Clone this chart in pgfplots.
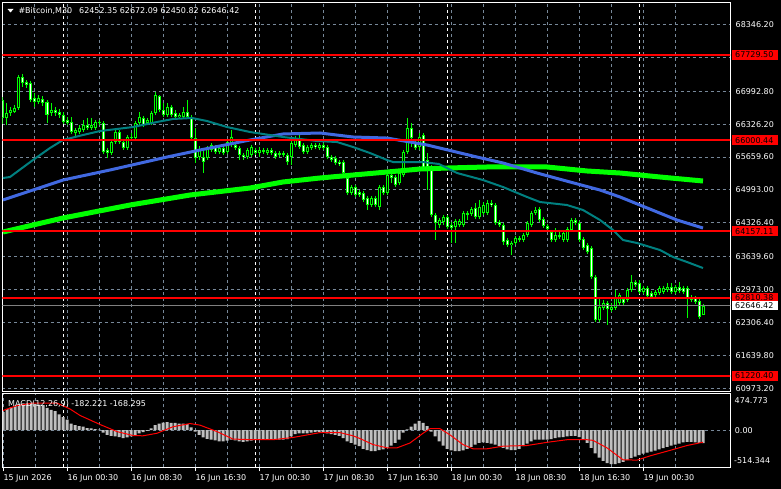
\documentclass[border=0pt]{standalone}
\usepackage{fontspec}
\setmainfont{DejaVu Sans}
\usepackage{pgfplots}
\usepackage{pgfplotstable}
\pgfplotsset{compat=1.18}
\definecolor{mtgrid}{RGB}{119,136,153}
\definecolor{mtlime}{RGB}{0,255,0}
\definecolor{mtblue}{RGB}{65,105,225}
\definecolor{mtteal}{RGB}{0,128,128}
\definecolor{mtsilver}{RGB}{192,192,192}
\newcommand{\mtfont}{\fontsize{8}{9.6}\selectfont}

\pgfplotstableread{
i o h l c
0 66816 66876 66329 66451
1 66451 66755 66309 66552
2 66552 66674 66491 66613
3 66572 66714 66552 66653
4 66653 67323 66613 67282
5 67282 67343 67079 67160
6 67181 67221 67059 67120
7 67160 67201 66775 66816
8 66856 66958 66674 66775
9 66775 66917 66735 66856
10 66836 66897 66694 66755
11 66775 66816 66349 66512
12 66552 66755 66491 66613
13 66613 66674 66491 66552
14 66572 66633 66451 66512
15 66512 66572 66329 66370
16 66410 66471 66309 66349
17 66370 66471 66127 66167
18 66147 66248 66086 66208
19 66167 66309 66127 66248
20 66208 66410 66167 66309
21 66309 66451 66208 66248
22 66248 66451 66208 66309
23 66248 66410 66208 66370
24 66370 66410 66309 66349
25 66349 66390 65721 65762
26 65802 65843 65640 65741
27 65741 66005 65701 65964
28 65964 66208 65924 66167
29 66167 66208 65924 65964
30 65964 66005 65802 65843
31 65843 66106 65802 66066
32 66066 66147 66005 66045
33 66045 66390 66005 66349
34 66349 66572 66309 66471
35 66451 66491 66268 66309
36 66349 66451 66309 66410
37 66349 66593 66309 66552
38 66552 66978 66512 66917
39 66897 66917 66572 66613
40 66613 66755 66471 66512
41 66512 66755 66471 66674
42 66674 66714 66471 66512
43 66552 66613 66451 66471
44 66471 66552 66431 66512
45 66471 66674 66451 66572
46 66572 66816 66451 66471
47 66471 66512 66005 66045
48 66045 66248 65539 65640
49 65660 65883 65600 65802
50 65660 65802 65336 65559
51 65640 65883 65600 65843
52 65802 65944 65762 65904
53 65863 65904 65721 65762
54 65762 65883 65721 65843
55 65843 65883 65701 65741
56 65762 66005 65721 65964
57 65904 66208 65863 66066
58 65904 65944 65802 65843
59 65843 65883 65600 65701
60 65701 65741 65600 65660
61 65660 65843 65620 65802
62 65701 65904 65660 65863
63 65802 65843 65701 65741
64 65741 65863 65660 65802
65 65802 65843 65721 65762
66 65741 65843 65701 65802
67 65802 65843 65701 65741
68 65741 65782 65620 65660
69 65701 65782 65660 65741
70 65741 65782 65660 65701
71 65701 65741 65498 65559
72 65660 65985 65498 65944
73 65904 66086 65863 66045
74 66005 66106 65822 65863
75 65904 65944 65721 65762
76 65762 65904 65721 65863
77 65843 65944 65802 65904
78 65904 65944 65822 65863
79 65843 65944 65802 65904
80 65904 65944 65802 65843
81 65863 65904 65620 65660
82 65660 65701 65559 65600
83 65640 65681 65498 65539
84 65559 65600 65478 65518
85 65559 65600 65295 65336
86 65235 65295 64890 64931
87 64931 65093 64890 65052
88 65052 65093 64850 64890
89 64951 64991 64850 64890
90 64931 64971 64748 64789
91 64829 64870 64586 64687
92 64687 64870 64647 64829
93 64829 64870 64647 64687
94 64647 65093 64586 65052
95 65052 65093 64890 64931
96 64931 65356 64890 65295
97 65295 65397 65133 65235
98 65255 65295 65052 65093
99 65133 65377 65093 65336
100 65295 65802 65255 65762
101 65762 66451 65721 66248
102 66248 66349 65863 66045
103 65964 66005 65802 65843
104 65863 66147 65802 66066
105 66106 66147 65397 65437
106 65600 65741 64991 65397
107 65437 65498 64444 64485
108 64485 64525 63978 64322
109 64282 64424 64221 64383
110 64343 64485 64282 64444
111 64444 64485 64201 64241
112 64282 64343 63917 64221
113 64241 64404 63917 64363
114 64282 64404 64241 64363
115 64282 64566 64241 64525
116 64525 64566 64383 64485
117 64505 64647 64464 64606
118 64627 64728 64404 64444
119 64444 64789 64404 64647
120 64525 64748 64485 64687
121 64525 64789 64485 64728
122 64728 64789 64647 64687
123 64687 64728 64282 64322
124 64343 64383 64241 64282
125 64282 64322 63876 63937
126 63978 64018 63836 63876
127 63876 63958 63674 63917
128 63917 64059 63876 64018
129 64018 64059 63937 63978
130 63978 64120 63937 64079
131 64079 64363 64039 64322
132 64282 64566 64241 64525
133 64525 64647 64485 64586
134 64606 64647 64343 64383
135 64404 64444 64221 64262
136 64262 64302 64160 64201
137 64140 64181 63937 63978
138 63978 64221 63937 64079
139 64079 64181 63998 64039
140 63978 64181 63937 64120
141 63978 64241 63937 64201
142 64181 64424 64140 64383
143 64383 64424 64282 64322
144 64322 64363 63937 63978
145 63998 64039 63775 63816
146 63876 63917 63694 63735
147 63816 63856 63188 63228
148 63228 63269 62316 62356
149 62356 62802 62316 62620
150 62600 62762 62559 62701
151 62701 62741 62255 62579
152 62559 62701 62519 62620
153 62600 62964 62559 62802
154 62701 62904 62660 62863
155 62782 62823 62660 62701
156 62762 63005 62721 62964
157 62964 63269 62924 63127
158 63127 63167 63025 63066
159 63106 63167 62883 62924
160 62924 63046 62883 63005
161 63005 63046 62802 62843
162 62904 62944 62782 62823
163 62863 62964 62823 62924
164 62904 63046 62863 63005
165 62924 63046 62883 63005
166 62964 63106 62924 63025
167 63025 63106 62883 62924
168 62924 63066 62883 63025
169 63025 63127 62904 62944
170 63005 63046 62883 62924
171 63005 63046 62397 62802
172 62823 62863 62721 62762
173 62802 62843 62681 62721
174 62741 62782 62377 62417
175 62452.35 62672.09 62450.82 62646.42
}\tabcandle

\pgfplotstableread{
i v
0 65235
1.75 65255
7.5 65600
11.75 65843
15 66005
20 66106
24.25 66187
32.5 66268
38.5 66370
42.5 66431
47.25 66451
51 66390
56 66268
61.75 66167
70 66066
78.5 65985
83.5 65964
87.5 65863
91.75 65741
96 65600
97.5 65559
105 65559
109 65518
113.5 65336
120 65194
125 65052
131 64850
134.25 64748
141 64687
145 64586
149.25 64383
152.5 64181
155 63978
158.5 63917
164.25 63775
167.5 63633
171 63532
175 63410
}\tabteal

\pgfplotstableread{
i v
0 64789
15 65194
26.75 65397
41 65660
49.25 65802
61.75 66005
70 66127
79.25 66147
87.5 66066
96 66045
101.75 65964
106 65904
111.25 65802
118.5 65660
125 65539
133.5 65336
141.75 65154
149.25 64991
154.25 64850
168.5 64383
175 64221
}\tabblue

\pgfplotstableread{
i v
0 64140
15 64424
31.75 64687
46.75 64890
61.75 65032
70 65154
79.25 65235
87.5 65295
96 65356
104.25 65417
111 65437
121 65458
136 65458
146 65377
154.25 65336
164.25 65255
175 65174
}\tablime

\pgfplotstableread{
i m
0 245
1 290
2 312
3 335
4 358
5 366
6 366
7 366
8 358
9 350
10 335
11 304
12 277
13 259
14 214
15 179
16 143
17 89
18 67
19 54
20 45
21 27
22 22
23 13
24 4
25 -36
26 -67
27 -80
28 -89
29 -98
30 -112
31 -103
32 -89
33 -67
34 -45
35 -31
36 -13
37 22
38 67
39 89
40 103
41 107
42 98
43 98
44 89
45 89
46 80
47 36
48 -22
49 -67
50 -103
51 -121
52 -134
53 -143
54 -156
55 -156
56 -147
57 -134
58 -143
59 -156
60 -165
61 -156
62 -147
63 -134
64 -134
65 -134
66 -134
67 -134
68 -134
69 -134
70 -134
71 -125
72 -89
73 -58
74 -45
75 -45
76 -45
77 -36
78 -31
79 -31
80 -31
81 -45
82 -58
83 -67
84 -80
85 -112
86 -156
87 -179
88 -201
89 -223
90 -259
91 -277
92 -290
93 -290
94 -277
95 -268
96 -246
97 -214
98 -179
99 -134
100 -36
101 9
102 45
103 89
104 125
105 98
106 54
107 -22
108 -89
109 -156
110 -214
111 -259
112 -281
113 -290
114 -290
115 -281
116 -259
117 -232
118 -201
119 -179
120 -170
121 -179
122 -188
123 -201
124 -223
125 -246
126 -268
127 -277
128 -277
129 -259
130 -223
131 -188
132 -156
133 -134
134 -134
135 -134
136 -134
137 -125
138 -112
139 -103
140 -98
141 -89
142 -80
143 -80
144 -98
145 -134
146 -179
147 -246
148 -322
149 -380
150 -424
151 -456
152 -469
153 -469
154 -456
155 -438
156 -415
157 -389
158 -366
159 -348
160 -326
161 -313
162 -299
163 -286
164 -268
165 -250
166 -232
167 -214
168 -201
169 -188
170 -170
171 -165
172 -165
173 -170
174 -179
175 -182.221
}\tabhist

\pgfplotstableread{
i s
0 268
3.4 335
7.5 371
13.5 371
16.75 290
19.25 201
24.25 76
28.5 -22
32.5 -76
35 -80
38.5 -45
42.5 45
46.75 89
49.25 67
53.5 -22
57.5 -125
62.5 -134
67.5 -134
72.5 -103
79.25 -36
84.25 -36
87.5 -80
89.25 -118
92.5 -201
96 -246
98.5 -246
101.75 -179
105 -45
106.75 18
109.25 18
111.75 -67
115 -201
117.5 -259
121 -259
125 -223
131 -214
136 -170
141 -134
146 -134
147.5 -143
151 -246
155 -411
158.5 -415
161.75 -357
166.75 -281
171 -214
175 -168.295
}\tabsig

\pgfplotsset{
  mtaxis/.style={
    scale only axis, width=727.5pt,
    xmin=-0.125, xmax=181.75,
    axis line style={white, line width=1pt},
    xtick={0,16,...,160},
    minor xtick={8,24,...,168},
    xmajorgrids, xminorgrids, ymajorgrids,
    major grid style={mtgrid, line width=1pt, dash pattern=on 3pt off 3pt},
    minor grid style={mtgrid, line width=1pt, dash pattern=on 3pt off 3pt},
    extra x ticks={15,63,111,159},
    extra x tick labels={},
    extra x tick style={grid=major, major grid style={white, line width=1pt, dash pattern=on 3pt off 3pt}, major tick length=0pt},
    yticklabel pos=right,
    ticklabel style={font=\mtfont, text=white},
    yticklabel style={anchor=west, inner sep=0pt, xshift=5.5pt},
    minor tick length=0pt,
  },
  candlebar/.style={forget plot, draw=none, mark=none,
    error bars/y dir=both, error bars/y explicit, error bars/error mark=none},
}
\tikzset{
  redlab/.style={fill=red, text=black, font=\mtfont, anchor=west, inner xsep=3.3pt, inner ysep=0pt,
    minimum height=9.5pt, text width=39.5pt, align=left},
}

\begin{document}
\begin{tikzpicture}
\useasboundingbox (0,0) rectangle (781pt,-489pt);
\fill[black] (0,0) rectangle (781pt,-489pt);

% ---------- main price panel ----------
\begin{axis}[mtaxis,
  at={(2.5pt,-391pt)}, anchor=south west, height=389pt,
  ymin=60917.2, ymax=68802.3,
  major tick length=0pt,
  xticklabels={},
  ytick={60973.2,61639.8,62306.4,62973,63639.6,64326.4,64993,65659.6,66326.2,66992.8,67679.6,68346.2},
  yticklabels={60973.20,61639.80,62306.40,62973.00,63639.60,64326.40,64993.00,65659.60,66326.20,66992.80,,68346.20},
]
% wicks
\addplot[candlebar, error bars/error bar style={draw=mtlime, line width=1pt, line cap=butt}]
  table[x=i, y=h, y error plus expr=0, y error minus expr={\thisrow{h}-\thisrow{l}}] {\tabcandle};
% bodies
\addplot[candlebar, error bars/error bar style={draw=mtlime, line width=3pt, line cap=butt}]
  table[x=i, y expr={max(\thisrow{o},\thisrow{c})}, y error plus expr=0,
        y error minus expr={max(abs(\thisrow{o}-\thisrow{c}),20)}] {\tabcandle};
% bull interior (black)
\addplot[restrict expr to domain={\thisrow{c}-\thisrow{o}}{1:100000}, candlebar,
  error bars/error bar style={draw=black, line width=1pt, line cap=butt}]
  table[x=i, y expr={\thisrow{c}-20}, y error plus expr=0,
        y error minus expr={max(\thisrow{c}-\thisrow{o}-40,0)}] {\tabcandle};
% bear interior (white)
\addplot[restrict expr to domain={\thisrow{c}-\thisrow{o}}{-100000:-1}, candlebar,
  error bars/error bar style={draw=white, line width=1pt, line cap=butt}]
  table[x=i, y expr={\thisrow{o}-20}, y error plus expr=0,
        y error minus expr={max(\thisrow{o}-\thisrow{c}-40,0)}] {\tabcandle};
% moving averages
\addplot[mtlime, line width=5pt, mark=none] table[x=i, y=v] {\tablime};
\addplot[mtblue, line width=3pt, mark=none] table[x=i, y=v] {\tabblue};
\addplot[mtteal, line width=2pt, mark=none] table[x=i, y=v] {\tabteal};
% horizontal levels
\addplot[red, line width=2pt, mark=none] coordinates {(-1,67729.50) (183,67729.50)};
\addplot[red, line width=2pt, mark=none] coordinates {(-1,66000.44) (183,66000.44)};
\addplot[red, line width=2pt, mark=none] coordinates {(-1,64157.11) (183,64157.11)};
\addplot[red, line width=2pt, mark=none] coordinates {(-1,62810.38) (183,62810.38)};
\addplot[red, line width=2pt, mark=none] coordinates {(-1,61220.40) (183,61220.40)};
\addplot[gray, line width=1pt, mark=none] coordinates {(-1,62646.42) (183,62646.42)};
\coordinate (L1) at (axis cs:181.75,67729.50);
\coordinate (L2) at (axis cs:181.75,66000.44);
\coordinate (L3) at (axis cs:181.75,64157.11);
\coordinate (L4) at (axis cs:181.75,62810.38);
\coordinate (L5) at (axis cs:181.75,61220.40);
\coordinate (LB) at (axis cs:181.75,62646.42);
\end{axis}

% ---------- MACD panel ----------
\begin{axis}[mtaxis,
  at={(2.5pt,-467.3pt)}, anchor=south west, height=74pt,
  ymin=-514.344, ymax=506,
  ytick={0}, yticklabels={},
  ytick style={draw=none},
  xtick pos=left, tick align=outside, major tick length=4pt,
  xtick style={draw=white, line width=1pt},
  xticklabels={15 Jun 2026,16 Jun 00:30,16 Jun 08:30,16 Jun 16:30,17 Jun 00:30,17 Jun 08:30,17 Jun 16:30,18 Jun 00:30,18 Jun 08:30,18 Jun 16:30,19 Jun 00:30},
  xticklabel style={anchor=north west, inner sep=0pt, xshift=0.3pt, yshift=-3pt},
]
\addplot[ybar, bar width=3pt, bar shift=0pt, fill=mtsilver, draw=none] table[x=i, y=m] {\tabhist};
\addplot[red, line width=1pt, mark=none] table[x=i, y=s] {\tabsig};
\end{axis}

% ---------- texts ----------
\fill[white] (7.5pt,-9pt) -- (13.5pt,-9pt) -- (10.5pt,-12.5pt) -- cycle;
\node[anchor=base west, inner sep=0pt, text=white, font=\mtfont] at (18.3pt,-14pt) {\#Bitcoin,M30};
\node[anchor=base west, inner sep=0pt, text=white, font=\mtfont] at (79pt,-14pt) {62452.35 62672.09 62450.82 62646.42};
\node[anchor=base west, inner sep=0pt, text=white, font=\mtfont] at (8pt,-406pt) {MACD(12,26,9) -182.221 -168.295};

\node[redlab] at ([xshift=1.7pt]L1) {67729.50};
\node[redlab] at ([xshift=1.7pt]L2) {66000.44};
\node[redlab] at ([xshift=1.7pt]L3) {64157.11};
\node[redlab] at ([xshift=1.7pt]L4) {62810.38};
\node[redlab] at ([xshift=1.7pt]L5) {61220.40};
\node[redlab, fill=white] at ([xshift=1.7pt]LB) {62646.42};

\node[anchor=base west, inner sep=0pt, text=white, font=\mtfont] at (734.5pt,-403.6pt) {474.773};
\node[anchor=base west, inner sep=0pt, text=white, font=\mtfont] at (734.7pt,-433.2pt) {0.00};
\node[anchor=base west, inner sep=0pt, text=white, font=\mtfont] at (734pt,-463.6pt) {-514.344};
\end{tikzpicture}
\end{document}
